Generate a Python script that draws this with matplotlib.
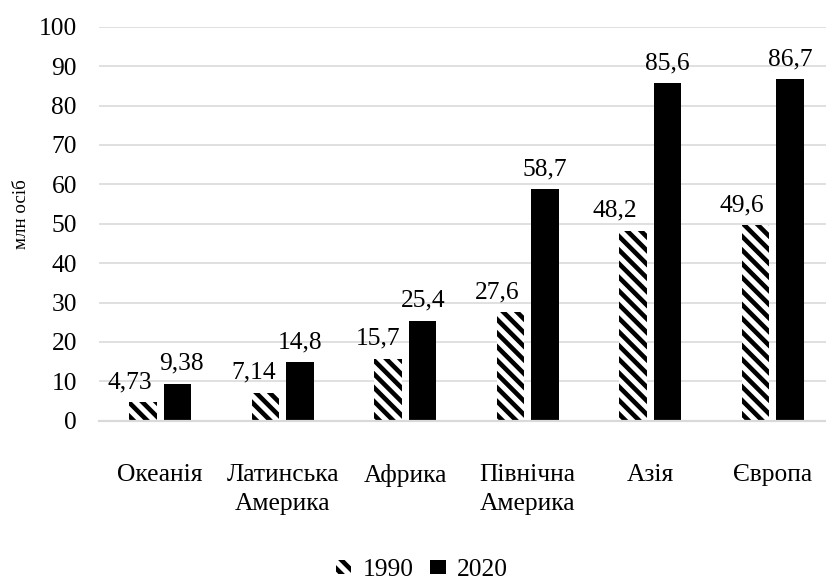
import numpy as np
import matplotlib
matplotlib.use('Agg')
from matplotlib import pyplot as plt

# data
categories = ['Океанія', 'Латинська\nАмерика', 'Африка', 'Північна\nАмерика', 'Азія', 'Європа']
values_1990 = [4.73, 7.14, 15.7, 27.6, 48.2, 49.6]
values_2020 = [9.38, 14.8, 25.4, 58.7, 85.6, 86.7]
series_names = ['1990', '2020']
y_ticks = [0, 10, 20, 30, 40, 50, 60, 70, 80, 90, 100]

# label nudges in pixels (the original labels are hand placed)
dx_1990 = [-13, -11.5, -9.5, -13, -18, -13.5]
dx_2020 = [3.5, 0, 1, 0, 0, 0]

DPI = 82.6
W, H = 826, 581


def px(p):
    # pixels -> points
    return p * 72.0 / DPI


plt.rcParams['font.family'] = ['Liberation Serif', 'DejaVu Serif']
plt.rcParams['hatch.linewidth'] = 4.0

fig = plt.figure(figsize=(W / DPI, H / DPI), dpi=DPI)
ax = fig.add_axes([99 / W, 1 - 420.7 / H, 735 / W, 394 / H])

x = np.arange(len(categories))
width = 0.225
shift = 0.141

bars_1990 = ax.bar(x - shift, values_1990, width, facecolor='white', edgecolor='black',
                   linewidth=0, hatch='\\\\', label=series_names[0], zorder=2)
bars_2020 = ax.bar(x + shift, values_2020, width, color='black', linewidth=0,
                   label=series_names[1], zorder=2)

fs = px(25.5)
for i, v in enumerate(values_1990):
    ax.annotate(str(v).replace('.', ','), xy=(x[i] - shift, v),
                xytext=(px(dx_1990[i]), px(14)), textcoords='offset points',
                ha='center', va='baseline', fontsize=fs)
for i, v in enumerate(values_2020):
    ax.annotate(str(v).replace('.', ','), xy=(x[i] + shift, v),
                xytext=(px(dx_2020[i]), px(14)), textcoords='offset points',
                ha='center', va='baseline', fontsize=fs)

ax.set_xlim(-0.5, len(categories) - 0.5)
ax.set_ylim(0, 100)
ax.set_yticks(y_ticks)
ax.set_yticklabels([str(t) for t in y_ticks], fontsize=fs)
ax.set_xticks(x)
ax.set_xticklabels(categories, fontsize=fs, linespacing=1.45)
ax.tick_params(axis='y', length=0, pad=px(22))
ax.tick_params(axis='x', length=0, pad=px(43))

ax.grid(axis='y', color='#d9d9d9', linewidth=px(1.6), zorder=0)
ax.set_axisbelow(True)
for s in ['top', 'right', 'left']:
    ax.spines[s].set_visible(False)
ax.spines['bottom'].set_color('#d9d9d9')
ax.spines['bottom'].set_linewidth(px(2.2))
ax.spines['bottom'].set_zorder(3)

fig.text(21 / W, 1 - 214 / H, 'млн осіб', rotation=90, ha='center', va='center',
         fontsize=px(19))

fig.legend(handles=[bars_1990, bars_2020], labels=series_names, loc='center',
           bbox_to_anchor=(422 / W, 1 - 570 / H), ncol=2, frameon=False,
           fontsize=fs, handlelength=0.6, handleheight=0.5, handletextpad=0.45,
           columnspacing=0.65)

fig.savefig('out.png', dpi=DPI)
